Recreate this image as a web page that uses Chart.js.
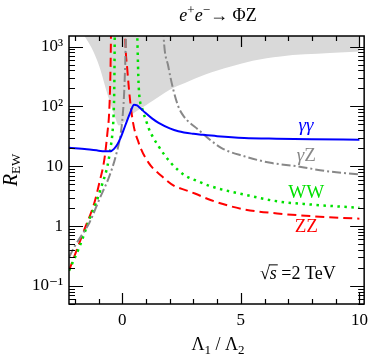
<!DOCTYPE html>
<html>
<head>
<meta charset="utf-8">
<script src="https://cdn.jsdelivr.net/npm/chart.js@4.4.0/dist/chart.umd.min.js"></script>
<style>
  html, body { margin: 0; padding: 0; background: #fff; }
  canvas { display: block; }
</style>
</head>
<body>
<canvas id="chart" width="374" height="357" style="width:374px;height:357px"></canvas>
<script>
  "use strict";

  // gamma gamma (solid blue)
  var ggX = [-2.25, -1.5, -1.0, -0.76, -0.5, -0.35, -0.2, -0.07, 0.07, 0.2, 0.35, 0.49, 0.62, 0.75, 0.97, 1.25, 1.53, 2.0, 2.36, 3.0, 3.33, 4.0, 5.14, 6.5, 8.0, 10];
  var ggY = [20.3, 19.2, 18.2, 17.8, 17.8, 19.5, 23.5, 30, 42, 58, 82, 107, 104, 94, 78, 63, 53, 43, 38.5, 34.8, 33.7, 31.8, 29.7, 28.8, 28.2, 27.8];

  // gamma Z (grey dash-dot), null = pole
  var gzX = [-2.25, -2.01, -1.7, -1.39, -0.97, -0.55, -0.28, -0.07, 0.0, 0.07, 0.12, 0.15, 0.17, 1.0, 1.70, 1.74, 1.94, 2.15, 2.36, 2.57, 3.2, 4.17, 5.14, 6.25, 7.36, 8.6, 10];
  var gzY = [0.3, 0.46, 0.72, 1.14, 2.8, 6.8, 14.7, 35, 60, 150, 500, 1500, 4000, null, 4000, 1500, 464, 190, 100, 70, 41, 20.3, 14.7, 11.4, 10, 8.3, 7.3];

  // WW (green dotted)
  var wwX = [-2.25, -1.8, -1.39, -1.11, -0.83, -0.63, -0.5, -0.42, -0.37, -0.34, -0.32, -0.31, 0.1, 0.60, 0.63, 0.69, 0.83, 1.04, 1.11, 1.53, 2.08, 2.36, 2.64, 3.2, 3.75, 5.14, 6.53, 7.92, 10];
  var wwY = [0.18, 0.46, 1.29, 2.45, 5.3, 10, 20, 35, 70, 200, 1500, 4000, null, 4000, 1500, 215, 95, 52, 43, 21.5, 11, 8.6, 7.0, 5.6, 4.6, 3.37, 2.6, 2.3, 2.02];

  // ZZ (red dashed)
  var zzX = [-2.25, -1.6, -1.18, -0.97, -0.76, -0.63, -0.55, -0.50, -0.48, -0.47, -0.2, 0.10, 0.12, 0.21, 0.42, 0.69, 1.11, 1.67, 2.22, 2.36, 3.06, 3.75, 5.14, 6.53, 7.92, 10];
  var zzY = [0.18, 0.88, 2.45, 5.3, 12.9, 36, 88, 400, 1500, 4000, null, 4000, 1500, 410, 64, 24.6, 11.4, 6.8, 4.6, 4.4, 3.5, 2.7, 1.9, 1.63, 1.47, 1.33];

  // lower edge of the grey excluded region (filled up to the top)
  var bandX = [-1.6, -1.3, -0.97, -0.7, -0.55, -0.35, -0.14, 0.1, 0.5, 1.0, 1.3, 2.0, 2.64, 3.5, 4.58, 5.5, 6.67, 7.7, 8.75, 10];
  var bandY = [1500, 950, 464, 200, 128, 75, 48, 56, 78, 105, 125, 190, 245, 340, 464, 580, 685, 740, 780, 830];

  var xTickVals = [0, 5, 10];
  var xTickLabels = ["0", "5", "10"];
  var yTickVals = [0.1, 1, 10, 100, 1000];
  var yTickLabels = ["10\u207B\u00B9", "1", "10", "10\u00B2", "10\u00B3"];

  var serif = '"Liberation Serif", "DejaVu Serif", serif';

  function toPoints(xs, ys) {
    return xs.map(function (x, i) { return { x: x, y: ys[i] }; });
  }

  function drawParts(ctx, parts, x, y, align) {
    var w = 0;
    parts.forEach(function (p) { ctx.font = p.font; p.w = ctx.measureText(p.t).width; w += p.w; });
    var cx = align === "center" ? x - w / 2 : x;
    parts.forEach(function (p) {
      ctx.font = p.font;
      if (p.color) ctx.fillStyle = p.color;
      ctx.fillText(p.t, cx, y + (p.dy || 0));
      p.x0 = cx;
      cx += p.w;
    });
    return parts;
  }

  // frame with inward ticks on all four sides
  var framePlugin = {
    id: "frame",
    afterDraw: function (chart) {
      var ctx = chart.ctx, a = chart.chartArea, xs = chart.scales.x, ys = chart.scales.y;
      ctx.save();
      ctx.strokeStyle = "#000";
      ctx.lineWidth = 1.2;
      ctx.beginPath();
      for (var d = -2; d <= 3; d++) {
        for (var m = 1; m <= 9; m++) {
          var v = m * Math.pow(10, d);
          if (v < ys.min || v > ys.max) continue;
          var p = Math.round(ys.getPixelForValue(v)) + 0.5;
          var len = m === 1 ? 14 : 6;
          ctx.moveTo(a.left, p); ctx.lineTo(a.left + len, p);
          ctx.moveTo(a.right, p); ctx.lineTo(a.right - len, p);
        }
      }
      for (var i = Math.ceil(xs.min); i <= xs.max; i++) {
        var q = Math.round(xs.getPixelForValue(i)) + 0.5;
        var l = i % 5 === 0 ? 11 : 5;
        ctx.moveTo(q, a.bottom); ctx.lineTo(q, a.bottom - l);
        ctx.moveTo(q, a.top); ctx.lineTo(q, a.top + l);
      }
      ctx.stroke();
      ctx.lineWidth = 1.5;
      ctx.strokeRect(a.left, a.top, a.right - a.left, a.bottom - a.top);
      ctx.restore();
    }
  };

  // title, axis titles and curve names
  var textPlugin = {
    id: "texts",
    afterDraw: function (chart) {
      var ctx = chart.ctx, xs = chart.scales.x, ys = chart.scales.y;
      var big = "18px " + serif, bigI = "italic 18px " + serif, sm = "13px " + serif;
      ctx.save();
      ctx.textBaseline = "alphabetic";
      ctx.fillStyle = "#000";

      drawParts(ctx, [
        { t: "e", font: bigI }, { t: "+", font: sm, dy: -7 },
        { t: "e", font: bigI }, { t: "\u2212", font: sm, dy: -7 },
        { t: "\u2192 \u03A6Z", font: big }
      ], 218, 21, "center");

      drawParts(ctx, [
        { t: "\u039B", font: big }, { t: "1", font: sm, dy: 4 },
        { t: " / ", font: big },
        { t: "\u039B", font: big }, { t: "2", font: sm, dy: 4 }
      ], 218, 350, "center");

      ctx.save();
      ctx.translate(17, 170);
      ctx.rotate(-Math.PI / 2);
      drawParts(ctx, [{ t: "R", font: "italic 20px " + serif }, { t: "EW", font: sm, dy: 3 }], 0, 0, "center");
      ctx.restore();

      var lab = "19px " + serif, labI = "italic 19px " + serif;
      drawParts(ctx, [{ t: "\u03B3\u03B3", font: labI, color: "#0000ff" }], xs.getPixelForValue(7.75), ys.getPixelForValue(39), "center");
      drawParts(ctx, [{ t: "\u03B3", font: labI, color: "#888888" }, { t: "Z", font: lab }], xs.getPixelForValue(7.76), ys.getPixelForValue(12.4), "center");
      drawParts(ctx, [{ t: "WW", font: lab, color: "#00e000" }], xs.getPixelForValue(7.76), ys.getPixelForValue(2.9), "center");
      drawParts(ctx, [{ t: "ZZ", font: lab, color: "#ff0000" }], xs.getPixelForValue(7.76), ys.getPixelForValue(0.785), "center");

      ctx.fillStyle = "#000";
      var bx = xs.getPixelForValue(7.4), by = ys.getPixelForValue(0.129);
      var parts = drawParts(ctx, [
        { t: "\u221A", font: big }, { t: "s", font: bigI }, { t: " =2 TeV", font: big }
      ], bx, by, "center");
      ctx.strokeStyle = "#000";
      ctx.lineWidth = 1;
      ctx.beginPath();
      ctx.moveTo(parts[1].x0 - 1, by - 14.5);
      ctx.lineTo(parts[1].x0 + parts[1].w + 1, by - 14.5);
      ctx.stroke();
      ctx.restore();
    }
  };

  var ctx = document.getElementById("chart").getContext("2d");
  var myChart = new Chart(ctx, {
    type: "line",
    data: {
      datasets: [
        {
          label: "gg",
          data: toPoints(ggX, ggY),
          borderColor: "#0000ff",
          borderWidth: 2,
          fill: false
        },
        {
          label: "gZ",
          data: toPoints(gzX, gzY),
          borderColor: "#888888",
          borderWidth: 2,
          borderDash: [9, 3, 2, 3],
          fill: false
        },
        {
          label: "WW",
          data: toPoints(wwX, wwY),
          borderColor: "#00e000",
          borderWidth: 2.5,
          borderDash: [2.5, 4.5],
          fill: false
        },
        {
          label: "ZZ",
          data: toPoints(zzX, zzY),
          borderColor: "#ff0000",
          borderWidth: 2,
          borderDash: [9, 5],
          fill: false
        },
        {
          label: "excluded",
          data: toPoints(bandX, bandY),
          borderWidth: 0,
          borderColor: "rgba(0,0,0,0)",
          backgroundColor: "#d9d9d9",
          fill: "end"
        }
      ]
    },
    options: {
      responsive: false,
      animation: false,
      devicePixelRatio: 1,
      layout: { padding: { top: 36, right: 6, left: 0, bottom: 0 } },
      plugins: { legend: { display: false }, tooltip: { enabled: false }, title: { display: false } },
      elements: {
        point: { radius: 0, hoverRadius: 0 },
        line: { cubicInterpolationMode: "monotone" }
      },
      scales: {
        x: {
          type: "linear",
          min: -2.25,
          max: 10.2,
          grid: { display: false, drawTicks: false },
          border: { display: false },
          afterBuildTicks: function (s) { s.ticks = xTickVals.map(function (v) { return { value: v }; }); },
          afterFit: function (s) { s.height = 53; },
          ticks: {
            font: { family: serif, size: 17 },
            color: "#000",
            padding: 6,
            maxRotation: 0,
            autoSkip: false,
            callback: function (v, i) { return xTickLabels[i]; }
          }
        },
        y: {
          type: "logarithmic",
          min: 0.05,
          max: 1500,
          grid: { display: false, drawTicks: false },
          border: { display: false },
          afterBuildTicks: function (s) { s.ticks = yTickVals.map(function (v) { return { value: v }; }); },
          afterFit: function (s) { s.width = 69; },
          ticks: {
            font: { family: serif, size: 17 },
            color: "#000",
            padding: 6,
            autoSkip: false,
            callback: function (v, i) { return yTickLabels[i]; }
          }
        }
      }
    },
    plugins: [framePlugin, textPlugin]
  });
</script>
</body>
</html>
